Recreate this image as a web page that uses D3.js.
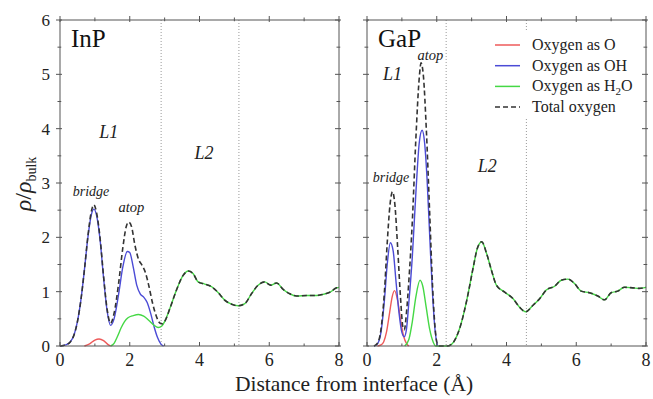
<!DOCTYPE html>
<html><head><meta charset="utf-8">
<script src="https://cdn.jsdelivr.net/npm/d3@7"></script>
<style>html,body{margin:0;padding:0;background:#fff;}svg{display:block;}</style>
</head><body><svg id="c" width="653" height="399" font-family="'Liberation Serif', 'Times New Roman', serif"></svg>
<script>
// ---------- data ----------
const xTicks = [0, 2, 4, 6, 8];
const xMinor = [1, 3, 5, 7];
const yTicks = [0, 1, 2, 3, 4, 5, 6];
const yMinor = [0.5, 1.5, 2.5, 3.5, 4.5, 5.5];
const panelNames = ["InP", "GaP"];
const legendLabels = ["Oxygen as O", "Oxygen as OH", "Oxygen as H2O", "Total oxygen"];
const seriesColors = ["#ee5a5a", "#4b4bd6", "#45d845", "#333333"];

// InP
const inpO = [[0.7,0],[0.85,0.04],[1.0,0.11],[1.12,0.13],[1.25,0.1],[1.37,0.03],[1.45,0]];
const inpOH = [[0,0],[0.1,0.01],[0.2,0.03],[0.3,0.08],[0.4,0.2],[0.5,0.45],[0.6,0.85],[0.7,1.4],[0.8,2.0],[0.9,2.42],[0.97,2.52],[1.05,2.4],[1.15,1.95],[1.25,1.25],[1.35,0.65],[1.45,0.38],[1.55,0.5],[1.68,0.95],[1.8,1.45],[1.93,1.74],[2.0,1.72],[2.1,1.45],[2.2,1.12],[2.3,0.96],[2.4,0.9],[2.5,0.8],[2.6,0.6],[2.7,0.35],[2.8,0.15],[2.9,0.03],[2.97,0]];
const inpH2OHead = [[1.45,0],[1.55,0.05],[1.65,0.18],[1.75,0.33],[1.85,0.45],[1.95,0.52],[2.1,0.56],[2.25,0.58],[2.4,0.55],[2.55,0.47],[2.7,0.38],[2.82,0.34],[2.92,0.37]];
const inpTotalHead = [[0,0],[0.1,0.01],[0.2,0.03],[0.3,0.08],[0.4,0.2],[0.5,0.45],[0.6,0.85],[0.7,1.4],[0.8,2.02],[0.9,2.48],[0.97,2.6],[1.05,2.45],[1.15,1.98],[1.25,1.28],[1.35,0.68],[1.45,0.42],[1.55,0.6],[1.68,1.15],[1.8,1.8],[1.9,2.2],[1.97,2.28],[2.05,2.2],[2.15,1.85],[2.25,1.6],[2.35,1.49],[2.45,1.35],[2.55,1.1],[2.65,0.8],[2.75,0.57],[2.87,0.42],[2.94,0.41]];
const inpTail = [[3.0,0.45],[3.15,0.69],[3.34,1.03],[3.53,1.30],[3.68,1.38],[3.82,1.33],[3.96,1.18],[4.15,1.14],[4.35,1.09],[4.54,0.98],[4.73,0.84],[4.92,0.77],[5.11,0.74],[5.30,0.78],[5.49,0.96],[5.68,1.12],[5.87,1.18],[6.04,1.12],[6.21,1.16],[6.40,1.04],[6.59,0.96],[6.78,0.92],[7.07,0.93],[7.36,0.93],[7.54,0.95],[7.74,0.99],[7.93,1.07],[8.0,1.08]];
const inpDividers = [2.9, 5.13];

// GaP
const gapO = [[0.3,0],[0.4,0.02],[0.48,0.08],[0.56,0.26],[0.65,0.62],[0.72,0.9],[0.79,1.02],[0.88,0.83],[0.97,0.45],[1.05,0.18],[1.14,0.04],[1.2,0]];
const gapOH = [[0.2,0],[0.3,0.04],[0.4,0.25],[0.5,0.85],[0.58,1.5],[0.67,1.9],[0.75,1.75],[0.83,1.2],[0.92,0.6],[1.0,0.25],[1.07,0.17],[1.13,0.3],[1.2,0.8],[1.3,1.65],[1.4,2.8],[1.5,3.75],[1.58,3.97],[1.65,3.75],[1.72,3.1],[1.8,2.0],[1.88,0.95],[1.95,0.3],[2.02,0]];
const gapH2OHead = [[1.08,0],[1.2,0.12],[1.3,0.45],[1.4,0.9],[1.52,1.21],[1.6,1.1],[1.7,0.7],[1.8,0.3],[1.9,0.07],[1.97,0]];
const gapTotalHead = [[0.2,0],[0.3,0.05],[0.4,0.3],[0.5,1.0],[0.58,1.9],[0.66,2.6],[0.73,2.84],[0.8,2.6],[0.88,1.8],[0.96,0.9],[1.03,0.35],[1.07,0.3],[1.13,0.6],[1.2,1.2],[1.3,2.3],[1.4,3.8],[1.5,4.95],[1.55,5.21],[1.62,4.95],[1.7,4.0],[1.8,2.4],[1.88,1.1],[1.95,0.35],[2.02,0.03],[2.08,0]];
const gapTail = [[2.1,0],[2.3,0],[2.4,0.02],[2.48,0.07],[2.67,0.35],[2.86,0.84],[3.05,1.46],[3.16,1.79],[3.29,1.92],[3.43,1.70],[3.57,1.39],[3.71,1.12],[3.95,0.99],[4.19,0.87],[4.38,0.71],[4.55,0.63],[4.76,0.75],[4.95,0.87],[5.14,1.03],[5.38,1.10],[5.57,1.21],[5.76,1.23],[5.95,1.15],[6.14,1.01],[6.38,0.98],[6.62,0.92],[6.81,0.85],[7.0,0.98],[7.19,1.01],[7.38,1.08],[7.62,1.07],[7.81,1.06],[8.0,1.08]];
const gapDividers = [2.27, 4.57];

// ---------- layout ----------
const svg = d3.select("#c");
const plotTop = 20, plotBottom = 346;
const panels = [
  {name: panelNames[0], x0: 60, x1: 339,
   series: [inpO, inpOH, inpH2OHead.concat(inpTail), inpTotalHead.concat(inpTail)],
   dividers: inpDividers, yLabels: true,
   notes: [{t:"L1", x:1.4, y:3.82, s:18}, {t:"L2", x:4.13, y:3.45, s:18},
           {t:"bridge", x:0.89, y:2.76, s:14}, {t:"atop", x:2.05, y:2.46, s:14.5}]},
  {name: panelNames[1], x0: 367, x1: 646,
   series: [gapO, gapOH, gapH2OHead.concat(gapTail), gapTotalHead.concat(gapTail)],
   dividers: gapDividers, yLabels: false,
   notes: [{t:"L1", x:0.73, y:4.89, s:18}, {t:"L2", x:3.45, y:3.2, s:18},
           {t:"bridge", x:0.69, y:3.01, s:14}, {t:"atop", x:1.82, y:5.26, s:14.5}]}
];
const y = d3.scaleLinear().domain([0, 6]).range([plotBottom, plotTop]);
const frameColor = "#555";

panels.forEach((p, pi) => {
  const x = d3.scaleLinear().domain([0, 8]).range([p.x0, p.x1]);
  const g = svg.append("g");
  p.dividers.forEach(d => {
    g.append("line").attr("x1", x(d)).attr("x2", x(d)).attr("y1", plotTop).attr("y2", plotBottom)
      .attr("stroke", "#999").attr("stroke-width", 1).attr("stroke-dasharray", "1,2");
  });
  if (pi === 1) {
    const lg = g.append("g");
    lg.append("rect").attr("x", 488).attr("y", 32).attr("width", 156).attr("height", 86).attr("fill", "#fff");
    legendLabels.forEach((lab, i) => {
      const yy = 45 + i * 20.7;
      lg.append("line").attr("x1", 495).attr("x2", 520).attr("y1", yy).attr("y2", yy)
        .attr("stroke", seriesColors[i]).attr("stroke-width", 1.5)
        .attr("stroke-dasharray", i === 3 ? "5,3" : null);
      const t = lg.append("text").attr("x", 532).attr("y", yy + 5).attr("font-size", 16).attr("fill", "#222");
      if (lab === "Oxygen as H2O") {
        t.append("tspan").text("Oxygen as H");
        t.append("tspan").text("2").attr("font-size", 11).attr("dy", 4);
        t.append("tspan").text("O").attr("dy", -4);
      } else t.text(lab);
    });
  }
  const line = d3.line().x(d => x(d[0])).y(d => y(d[1])).curve(d3.curveMonotoneX);
  p.series.forEach((s, i) => {
    g.append("path").datum(s).attr("d", line).attr("fill", "none")
      .attr("stroke", seriesColors[i]).attr("stroke-width", i === 3 ? 1.6 : 1.4)
      .attr("stroke-dasharray", i === 3 ? "5,3" : null).attr("stroke-linejoin", "round");
  });
  g.append("rect").attr("x", p.x0).attr("y", plotTop).attr("width", p.x1 - p.x0).attr("height", plotBottom - plotTop)
    .attr("fill", "none").attr("stroke", frameColor).attr("stroke-width", 1);
  const tk = g.append("g").attr("stroke", frameColor).attr("stroke-width", 1);
  const xt = xTicks.map(v => ({v, len: 4})).concat(xMinor.map(v => ({v, len: 2.5})));
  xt.forEach(t => {
    const xx = x(t.v);
    tk.append("line").attr("x1", xx).attr("x2", xx).attr("y1", plotBottom - t.len).attr("y2", plotBottom);
    tk.append("line").attr("x1", xx).attr("x2", xx).attr("y1", plotTop - t.len).attr("y2", plotTop + t.len * 0.5);
  });
  const yt = yTicks.map(v => ({v, len: 4})).concat(yMinor.map(v => ({v, len: 2.5})));
  yt.forEach(t => {
    const yy = y(t.v);
    tk.append("line").attr("x1", p.x0 - t.len).attr("x2", p.x0 + t.len * 0.5).attr("y1", yy).attr("y2", yy);
    tk.append("line").attr("x1", p.x1 - t.len).attr("x2", p.x1 + t.len * 0.5).attr("y1", yy).attr("y2", yy);
  });
  xTicks.forEach(v => {
    g.append("text").attr("x", x(v)).attr("y", 366).attr("text-anchor", "middle")
      .attr("font-size", 18).attr("fill", "#222").text(v);
  });
  if (p.yLabels) {
    yTicks.forEach(v => {
      g.append("text").attr("x", 50).attr("y", y(v) + 6).attr("text-anchor", "end")
        .attr("font-size", 17).attr("fill", "#222").text(v);
    });
  }
  g.append("text").attr("x", p.x0 + 11).attr("y", 47).attr("font-size", 25).attr("fill", "#111").text(p.name);
  p.notes.forEach(n => {
    g.append("text").attr("x", x(n.x)).attr("y", y(n.y)).attr("text-anchor", "middle")
      .attr("font-size", n.s).attr("font-style", "italic").attr("fill", "#222").text(n.t);
  });
});

svg.append("text").attr("x", 354).attr("y", 391).attr("text-anchor", "middle")
  .attr("font-size", 21.5).attr("fill", "#222").text("Distance from interface (Å)");
const yl = svg.append("text").attr("transform", "translate(31,184) rotate(-90)")
  .attr("text-anchor", "middle").attr("font-size", 24).attr("fill", "#222");
yl.append("tspan").attr("font-style", "italic").text("ρ");
yl.append("tspan").text("/");
yl.append("tspan").attr("font-style", "italic").text("ρ");
yl.append("tspan").attr("font-size", 14).attr("dy", 5).text("bulk");
</script></body></html>
